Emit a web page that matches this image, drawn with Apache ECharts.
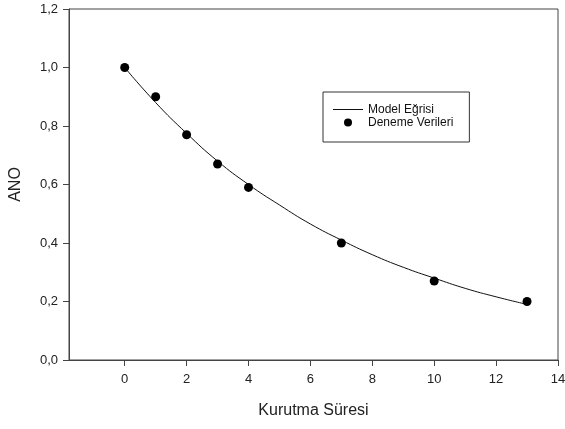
<!DOCTYPE html>
<html>
<head>
<meta charset="utf-8">
<script src="https://cdn.jsdelivr.net/npm/echarts@6/dist/echarts.min.js"></script>
<style>
  html, body { margin: 0; padding: 0; background: #fff; }
  #chart { width: 565px; height: 429px; }
</style>
</head>
<body>
<div id="chart"></div>
<script>
// Measured drying data (time vs. moisture ratio)
var dataTimes = [0, 1, 2, 3, 4, 7, 10, 13];
var dataValues = [1.00, 0.90, 0.77, 0.67, 0.59, 0.40, 0.27, 0.20];

// Fitted model curve, sampled along the drying time
var modelTimes = [0, 1, 2, 3, 4, 5, 6, 7, 8, 9, 10, 11, 12, 13];
var modelValues = [1.00, 0.88, 0.775, 0.68, 0.60, 0.53, 0.465, 0.41, 0.36, 0.317, 0.28, 0.245, 0.216, 0.19];

// Tick positions
var xTicks = [0, 2, 4, 6, 8, 10, 12, 14];
var yTicks = [0, 0.2, 0.4, 0.6, 0.8, 1.0, 1.2];

var seriesNames = ['Model Eğrisi', 'Deneme Verileri'];
var xTitle = 'Kurutma Süresi';
var yTitle = 'ANO';

function pairs(xs, ys) {
  return xs.map(function (x, i) { return [x, ys[i]]; });
}
function comma(v) {
  return v.toFixed(1).replace('.', ',');
}

var axisColor = '#444';
var font = 'Liberation Sans, Arial, sans-serif';

var chart = echarts.init(document.getElementById('chart'), null, { renderer: 'canvas' });
chart.setOption({
  animation: false,
  backgroundColor: '#fff',
  grid: {
    left: 69, right: 7, top: 9, bottom: 69,
    containLabel: false,
    outerBoundsMode: 'none',
    show: true, borderColor: axisColor, borderWidth: 1
  },
  legend: {
    orient: 'vertical',
    left: 323, top: 92,
    data: [
      { name: seriesNames[0], icon: 'path://M0,0H30V1H0Z' },
      { name: seriesNames[1], icon: 'circle' }
    ],
    backgroundColor: '#fff',
    borderColor: '#333', borderWidth: 1,
    padding: [11, 16, 13, 10],
    itemWidth: 30, itemHeight: 8, itemGap: 0,
    textStyle: { fontFamily: font, fontSize: 12, color: '#111', lineHeight: 13 }
  },
  xAxis: {
    type: 'value',
    min: -1.8, max: 14,
    name: xTitle,
    nameLocation: 'middle',
    nameGap: 43,
    nameTextStyle: { fontFamily: font, fontSize: 16, color: '#222' },
    splitLine: { show: false },
    axisLine: { show: true, onZero: false, lineStyle: { color: axisColor, width: 1 } },
    axisTick: { show: true, length: 6, customValues: xTicks, lineStyle: { color: axisColor } },
    axisLabel: {
      customValues: xTicks, margin: 13,
      fontFamily: font, fontSize: 13, color: '#222'
    }
  },
  yAxis: {
    type: 'value',
    min: 0, max: 1.2, interval: 0.2,
    name: yTitle,
    nameLocation: 'middle',
    nameGap: 45,
    nameTextStyle: { fontFamily: font, fontSize: 16, color: '#222' },
    splitLine: { show: false },
    axisLine: { show: true, onZero: false, lineStyle: { color: axisColor, width: 1 } },
    axisTick: { show: true, length: 6, lineStyle: { color: axisColor } },
    axisLabel: {
      margin: 11,
      fontFamily: font, fontSize: 13, color: '#222',
      formatter: function (v) { return comma(v); }
    }
  },
  series: [
    {
      name: seriesNames[0],
      type: 'line',
      data: pairs(modelTimes, modelValues),
      smooth: true,
      symbol: 'none',
      lineStyle: { color: '#111', width: 1 },
      itemStyle: { color: '#111' },
      z: 2
    },
    {
      name: seriesNames[1],
      type: 'scatter',
      data: pairs(dataTimes, dataValues),
      symbol: 'circle',
      symbolSize: 9,
      itemStyle: { color: '#000', opacity: 1 },
      z: 3
    }
  ]
});
</script>
</body>
</html>
